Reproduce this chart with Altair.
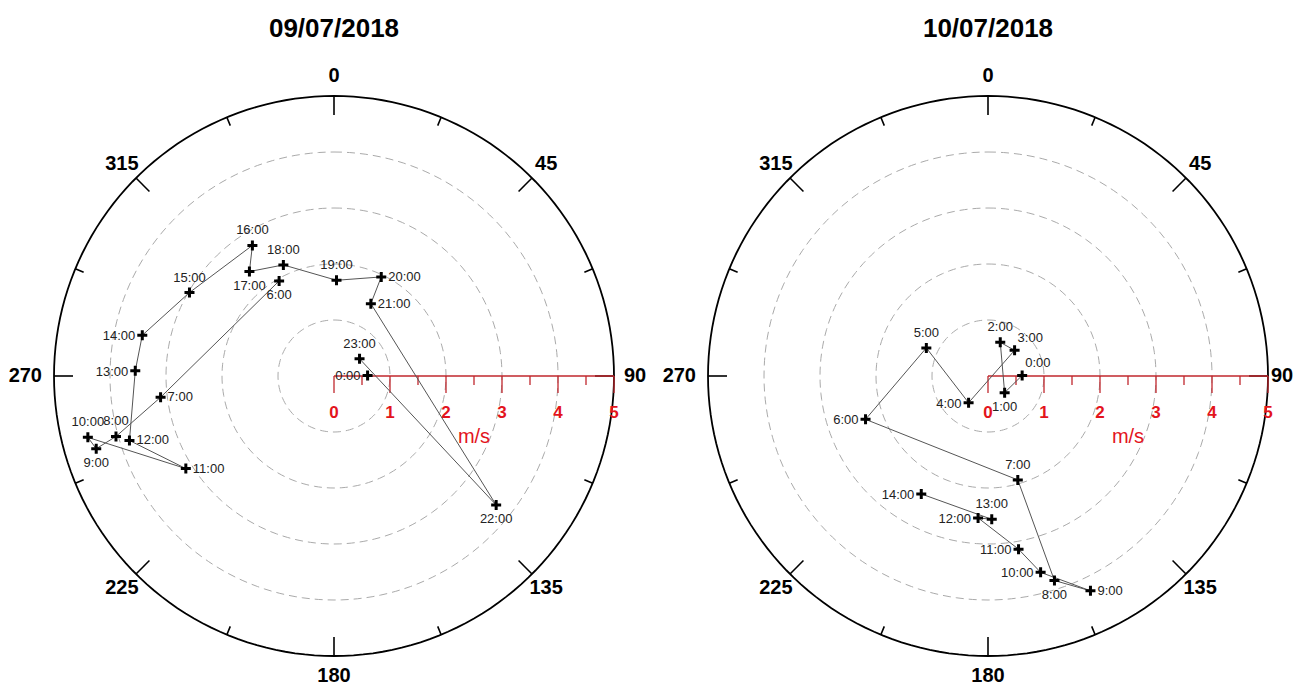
import altair as alt
import pandas as pd
import numpy as np

FONT = "Liberation Sans"

TITLES = ["09/07/2018", "10/07/2018"]

# ---- Day 1 (09/07/2018): hour, direction (deg, clockwise from 0 at top), speed (m/s)
HOURS_1 = [0, 6, 7, 8, 9, 10, 11, 12, 13, 14, 15, 16, 17, 18, 19, 20, 21, 22, 23]
DIR_1 = [89, 330, 263, 254.5, 253, 256, 238, 252.5, 271.5, 282, 300, 328, 321, 335.5, 1.5, 25.5, 27, 128.5, 56]
SPD_1 = [0.60, 1.96, 3.12, 4.04, 4.44, 4.53, 3.12, 3.83, 3.55, 3.50, 2.98, 2.75, 2.40, 2.18, 1.71, 1.96, 1.45, 3.70, 0.55]

# ---- Day 2 (10/07/2018)
HOURS_2 = [0, 1, 2, 3, 4, 5, 6, 7, 8, 9, 10, 11, 12, 13, 14]
DIR_2 = [89, 135, 20, 46, 216, 294.5, 250.5, 164, 162, 154.5, 165, 170, 184, 178.5, 209.5]
SPD_2 = [0.61, 0.42, 0.64, 0.66, 0.59, 1.21, 2.32, 1.93, 3.84, 4.25, 3.63, 3.14, 2.54, 2.56, 2.42]

# label placement codes (style)
PLACE_1 = ["L", "B", "R", "T", "B", "T", "R", "R", "L", "L", "T", "T", "B", "T", "T", "R", "R", "B", "T"]
PLACE_2 = ["TR", "B", "T", "TR", "L", "T", "L", "T", "B", "R", "L", "L", "L", "T", "L"]

PLACE_STYLE = {
    "L": dict(align="right", dx=-7, dy=1),
    "R": dict(align="left", dx=7, dy=0),
    "T": dict(align="center", dx=0, dy=-15),
    "B": dict(align="center", dx=0, dy=14),
    "TR": dict(align="left", dx=3, dy=-12),
}

# axes / grid definitions
MAX_SPEED = 5
RINGS = [1, 2, 3, 4]
RING_ANGLES = list(range(0, 361, 2))
OUTER_TICKS = [0, 22.5, 45, 67.5, 90, 112.5, 135, 157.5, 180, 202.5, 225, 247.5, 270, 292.5, 315, 337.5]
DIR_LABELS = [0, 45, 90, 135, 180, 225, 270, 315]
SPEED_TICKS = [0, 0.5, 1, 1.5, 2, 2.5, 3, 3.5, 4, 4.5, 5]
SPEED_LABELS = [0, 1, 2, 3, 4, 5]

PX = 56.0  # px per m/s
# distance (px) of the "90" label from the centre, per panel (right one kept inside the window)
R90 = [290, 283]

RED_LINE = "#c0272d"
RED_TEXT = "#e3141c"

CROSS = "M-1,-0.3H-0.3V-1H0.3V-0.3H1V0.3H0.3V1H-0.3V0.3H-1Z"

SC = alt.Scale(domain=[-MAX_SPEED, MAX_SPEED], nice=False, zero=False)


def X(f="x"):
    return alt.X(f"{f}:Q", scale=SC, axis=None)


def Y(f="y"):
    return alt.Y(f"{f}:Q", scale=SC, axis=None)


def panel(title, hours, dirs, spds, places, r90):
    df = pd.DataFrame({"hour": hours, "dir": dirs, "spd": spds, "place": places})
    df["label"] = df["hour"].astype(str) + ":00"
    df["seg"] = (df["hour"].diff() != 1).cumsum()

    # dashed speed rings
    rdf = pd.DataFrame([(r, a) for r in RINGS for a in RING_ANGLES], columns=["r", "a"])
    rings = alt.Chart(rdf).transform_calculate(
        x="datum.r*sin(datum.a*PI/180)", y="datum.r*cos(datum.a*PI/180)"
    ).mark_line(color="#aaaaaa", strokeWidth=1, strokeDash=[8, 5]).encode(
        x=X(), y=Y(), detail="r:N", order="a:Q"
    )

    odf = pd.DataFrame({"a": RING_ANGLES})
    outer = alt.Chart(odf).transform_calculate(
        x=f"{MAX_SPEED}*sin(datum.a*PI/180)", y=f"{MAX_SPEED}*cos(datum.a*PI/180)"
    ).mark_line(color="black", strokeWidth=1.8).encode(x=X(), y=Y(), order="a:Q")

    tdf = pd.DataFrame({"a": OUTER_TICKS})
    tdf["len"] = np.where(tdf["a"] % 45 == 0, 19, 9)
    ticks = alt.Chart(tdf).transform_calculate(
        r2=f"{MAX_SPEED} - datum.len/{PX}",
        x=f"{MAX_SPEED}*sin(datum.a*PI/180)",
        y=f"{MAX_SPEED}*cos(datum.a*PI/180)",
        x2="datum.r2*sin(datum.a*PI/180)",
        y2="datum.r2*cos(datum.a*PI/180)",
    ).mark_rule(color="black", strokeWidth=1.6).encode(
        x=X(), y=Y(), x2="x2:Q", y2="y2:Q"
    )

    ldf = pd.DataFrame({"a": DIR_LABELS})
    ldf["t"] = ldf["a"].astype(str)
    dlabels = []
    for cond, align, rpx in [
        ("datum.a != 90 && datum.a != 270", "center", 300),
        ("datum.a == 90", "left", r90),
        ("datum.a == 270", "right", 292),
    ]:
        dlabels.append(
            alt.Chart(ldf).transform_filter(cond).transform_calculate(
                x=f"{rpx / PX}*sin(datum.a*PI/180)", y=f"{rpx / PX}*cos(datum.a*PI/180)"
            ).mark_text(font=FONT, fontSize=20, fontWeight="bold", color="black",
                        align=align, baseline="middle").encode(x=X(), y=Y(), text="t:N")
        )

    # red speed axis
    axdf = pd.DataFrame({"x": [0], "x2": [MAX_SPEED], "y": [0]})
    red_axis = alt.Chart(axdf).mark_rule(color=RED_LINE, strokeWidth=1.3).encode(
        x=X(), x2="x2:Q", y=Y()
    )
    stdf = pd.DataFrame({"x": SPEED_TICKS})
    stdf["len"] = np.where(stdf["x"] % 1 == 0, 17, 9)
    red_ticks = alt.Chart(stdf).transform_calculate(
        y="0", y2=f"-datum.len/{PX}"
    ).mark_rule(color=RED_LINE, strokeWidth=1.3).encode(x=X(), y=Y(), y2="y2:Q")
    sldf = pd.DataFrame({"x": SPEED_LABELS, "y": [0] * len(SPEED_LABELS)})
    sldf["t"] = sldf["x"].astype(str)
    red_labels = alt.Chart(sldf).mark_text(
        font=FONT, fontSize=17, fontWeight="bold", color=RED_TEXT, dy=37, baseline="middle"
    ).encode(x=X(), y=Y(), text="t:N")
    unit = alt.Chart(pd.DataFrame({"x": [MAX_SPEED / 2], "y": [0], "t": ["m/s"]})).mark_text(
        font=FONT, fontSize=20, color=RED_TEXT, dy=61, baseline="middle"
    ).encode(x=X(), y=Y(), text="t:N")

    ttl = alt.Chart(pd.DataFrame({"x": [0], "y": [MAX_SPEED], "t": [title]})).mark_text(
        font=FONT, fontSize=26, fontWeight="bold", color="black", dy=-67, baseline="middle"
    ).encode(x=X(), y=Y(), text="t:N")

    base = alt.Chart(df).transform_calculate(
        x="datum.spd*sin(datum.dir*PI/180)", y="datum.spd*cos(datum.dir*PI/180)"
    )
    lines = base.mark_line(color="#555555", strokeWidth=1).encode(
        x=X(), y=Y(), detail="seg:N", order="hour:Q"
    )
    pts = base.mark_point(shape=CROSS, filled=True, color="black", size=100, opacity=1,
                          strokeWidth=0).encode(x=X(), y=Y())
    hlabels = []
    for key, st in PLACE_STYLE.items():
        hlabels.append(
            base.transform_filter(f"datum.place == '{key}'").mark_text(
                font=FONT, fontSize=13, color="#222222", baseline="middle", **st
            ).encode(x=X(), y=Y(), text="label:N")
        )

    return alt.layer(
        rings, outer, ticks, *dlabels, red_axis, red_ticks, red_labels, unit, ttl,
        lines, pts, *hlabels
    ).properties(width=2 * MAX_SPEED * PX, height=2 * MAX_SPEED * PX)


p1 = panel(TITLES[0], HOURS_1, DIR_1, SPD_1, PLACE_1, R90[0])
p2 = panel(TITLES[1], HOURS_2, DIR_2, SPD_2, PLACE_2, R90[1])

chart = alt.hconcat(p1, p2, spacing=94, bounds="flush").properties(
    padding={"left": 0, "top": 8, "right": 0, "bottom": 0}
).configure_view(stroke=None)

chart.save("out.html", embed_options={"renderer": "svg", "actions": False})
